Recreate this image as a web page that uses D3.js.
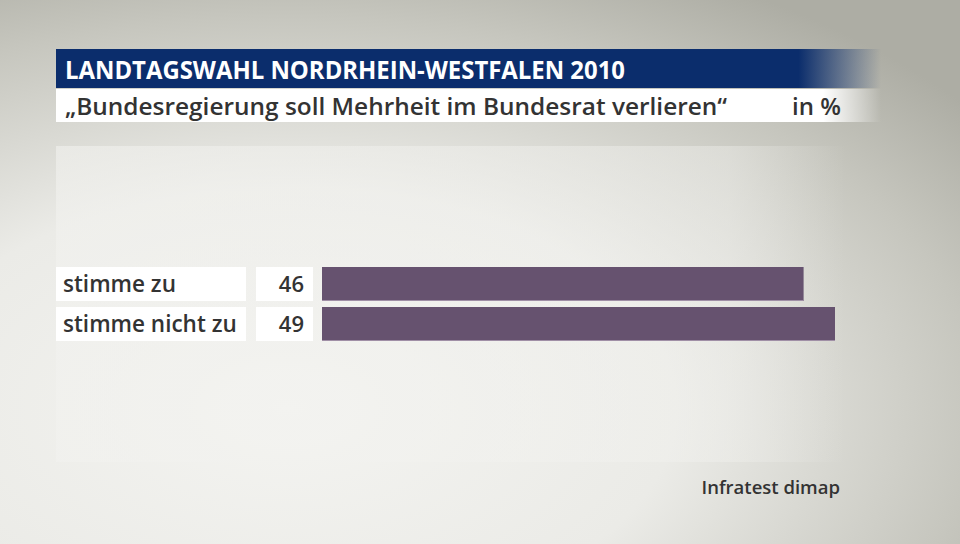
<!DOCTYPE html>
<html><head><meta charset="utf-8">
<script src="https://cdn.jsdelivr.net/npm/d3@7"></script>
<style>html,body{margin:0;padding:0;overflow:hidden;}svg{display:block;}</style>
</head><body>
<script>
const title = "LANDTAGSWAHL NORDRHEIN-WESTFALEN 2010";
const subtitle = "\u201EBundesregierung soll Mehrheit im Bundesrat verlieren\u201C";
const unit = "in %";
const source = "Infratest dimap";
const categories = ["stimme zu", "stimme nicht zu"];
const values = [46, 49];

const W = 960, H = 544;
const svg = d3.select("body").append("svg").attr("width", W).attr("height", H);
const defs = svg.append("defs");

const bg = defs.append("radialGradient").attr("id","bg").attr("cx","0.3").attr("cy","0.75").attr("r","0.9");
bg.append("stop").attr("offset","0").attr("stop-color","#f4f4f1");
bg.append("stop").attr("offset","0.45").attr("stop-color","#ebebe7");
bg.append("stop").attr("offset","0.8").attr("stop-color","#c6c6be");
bg.append("stop").attr("offset","1").attr("stop-color","#adada4");
svg.append("rect").attr("width",W).attr("height",H).attr("fill","url(#bg)");

// panel
const pg = defs.append("linearGradient").attr("id","panel").attr("x1","0").attr("x2","1");
pg.append("stop").attr("offset","0").attr("stop-color","#f2f2ef").attr("stop-opacity",0.6);
pg.append("stop").attr("offset","0.85").attr("stop-color","#f2f2ef").attr("stop-opacity",0.4);
pg.append("stop").attr("offset","1").attr("stop-color","#f2f2ef").attr("stop-opacity",0);
svg.append("rect").attr("x",56).attr("y",146).attr("width",790).attr("height",316).attr("fill","url(#panel)");

// title bars
const tg = defs.append("linearGradient").attr("id","tg").attr("x1","0").attr("x2","1");
tg.append("stop").attr("offset","0").attr("stop-color","#0b2d6c");
tg.append("stop").attr("offset","0.9").attr("stop-color","#0b2d6c");
tg.append("stop").attr("offset","1").attr("stop-color","#0b2d6c").attr("stop-opacity",0);
svg.append("rect").attr("x",56).attr("y",49).attr("width",825).attr("height",39).attr("fill","url(#tg)");
const sg = defs.append("linearGradient").attr("id","sg").attr("x1","0").attr("x2","1");
sg.append("stop").attr("offset","0").attr("stop-color","#ffffff");
sg.append("stop").attr("offset","0.93").attr("stop-color","#ffffff");
sg.append("stop").attr("offset","1").attr("stop-color","#ffffff").attr("stop-opacity",0);
svg.append("rect").attr("x",56).attr("y",89).attr("width",825).attr("height",33).attr("fill","url(#sg)");

const font = "'Open Sans', 'DejaVu Sans', sans-serif";
svg.append("text").attr("x",65).attr("y",79).text(title)
  .attr("font-family",font).attr("font-weight",700).attr("font-size",25).attr("fill","#fff")
  .attr("textLength",560).attr("lengthAdjust","spacingAndGlyphs");
svg.append("text").attr("x",65).attr("y",115).text(subtitle)
  .attr("font-family",font).attr("font-weight",600).attr("font-size",24).attr("fill","#333")
  .attr("textLength",662).attr("lengthAdjust","spacingAndGlyphs");
svg.append("text").attr("x",841).attr("y",115).attr("text-anchor","end").text(unit)
  .attr("font-family",font).attr("font-weight",600).attr("font-size",24).attr("fill","#333");

// chart
const x = d3.scaleLinear().domain([0, 49]).range([322, 835]);
const y = d3.scaleBand().domain(categories).range([267, 341]).paddingInner(6/40).paddingOuter(0);

const rows = svg.append("g").selectAll("g").data(categories).join("g");
rows.append("rect").attr("x",56).attr("y",d=>y(d)).attr("width",190).attr("height",y.bandwidth()).attr("fill","#fff");
rows.append("rect").attr("x",256).attr("y",d=>y(d)).attr("width",57).attr("height",y.bandwidth()).attr("fill","#fff");
rows.append("text").attr("x",63).attr("y",d=>y(d)+y.bandwidth()/2+8).text(d=>d)
  .attr("font-family",font).attr("font-weight",600).attr("font-size",22.5).attr("fill","#333");
rows.append("text").attr("x",304).attr("y",d=>y(d)+y.bandwidth()/2+8).attr("text-anchor","end")
  .text((d,i)=>values[i])
  .attr("font-family",font).attr("font-weight",600).attr("font-size",22).attr("fill","#333");
rows.append("rect").attr("x",x(0)).attr("y",d=>y(d)).attr("width",(d,i)=>x(values[i])-x(0))
  .attr("height",y.bandwidth()).attr("fill","#66526f");
rows.append("rect").attr("x",x(0)).attr("y",d=>y(d)+y.bandwidth()-1).attr("width",(d,i)=>x(values[i])-x(0))
  .attr("height",1).attr("fill","#a08fa6");

svg.append("text").attr("x",840).attr("y",494).attr("text-anchor","end").text(source)
  .attr("font-family",font).attr("font-weight",600).attr("font-size",18.5).attr("fill","#333");
</script>
</body></html>
